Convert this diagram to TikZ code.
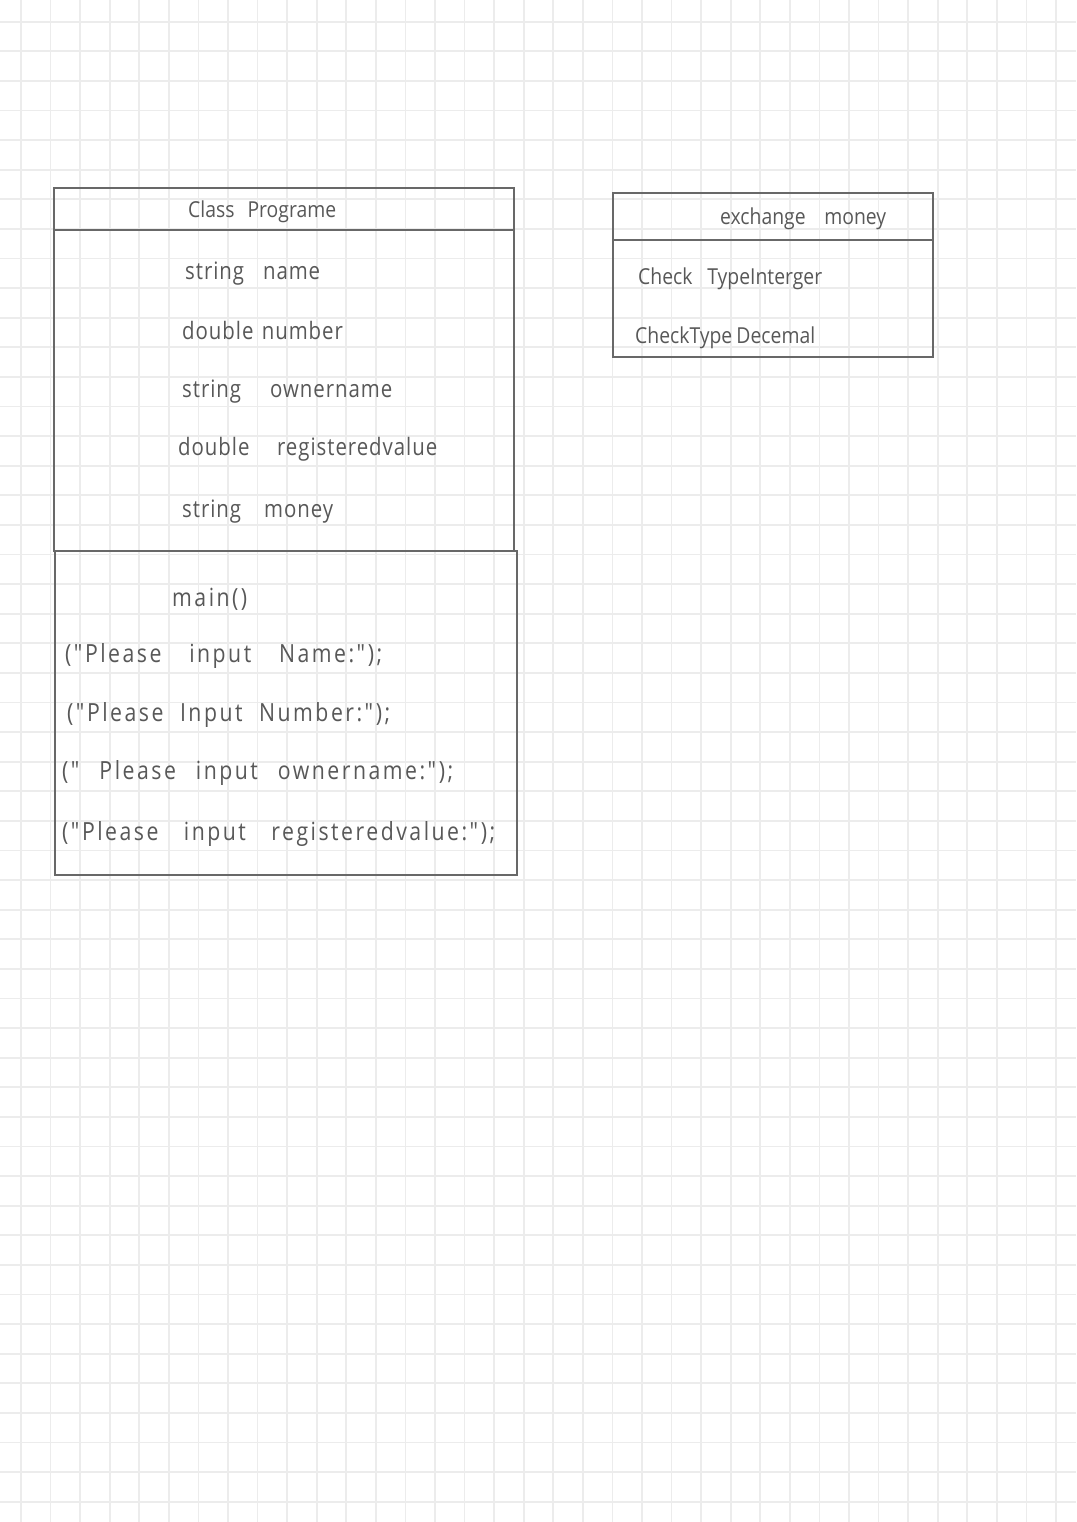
\documentclass[tikz,border=0pt]{standalone}
\usepackage{fontspec}
\setmainfont{Open Sans}[Ligatures=TeXOff]
\definecolor{gridc}{HTML}{ECECEC}
\definecolor{ink}{HTML}{585858}
\definecolor{boxc}{HTML}{686868}
\begin{document}
\begin{tikzpicture}[x=1pt,y=-1pt,
  box/.style={draw=boxc,line width=2.4pt,rectangle,inner sep=0pt},
  txt/.style={text=ink,anchor=west,inner sep=0pt,font=\fontsize{24}{26}\selectfont\addfontfeature{LetterSpace=4,FakeStretch=0.85}},
  code/.style={text=ink,anchor=west,inner sep=0pt,font=\fontsize{25}{26}\selectfont\addfontfeature{LetterSpace=10,FakeStretch=0.85}},
  ttl/.style={text=ink,anchor=west,inner sep=0pt,font=\fontsize{22}{24}\selectfont\addfontfeature{FakeStretch=0.88}}]
\useasboundingbox[fill=white] (0,0) rectangle (1076,1522);
\foreach \i in {0,...,36} {\draw[gridc,line width=1.7pt] (21+29.57*\i,0) -- (21+29.57*\i,1522);}
\foreach \i in {0,...,51} {\draw[gridc,line width=1.7pt] (0,21.7+29.6*\i) -- (1076,21.7+29.6*\i);}
% Class Programe
\node[box,minimum width=460pt,minimum height=42pt] (phead) at (284,209) {};
\node[box,minimum width=460pt,minimum height=321pt] (pattr) at (284,390.5) {};
\node[box,minimum width=462pt,minimum height=324pt] (pmeth) at (286,713) {};
\node[ttl] (ptitle) at (188,212) {\makebox[148pt][s]{Class \ Programe}};
\node[txt] (a1) at (185,274) {\makebox[135pt][s]{string \ name}};
\node[txt] (a2) at (182,330) {\makebox[160pt][s]{double \ number}};
\node[txt] (a3) at (182,392) {\makebox[210pt][s]{string \ ownername}};
\node[txt] (a4) at (178,449) {\makebox[259pt][s]{double \ registeredvalue}};
\node[txt] (a5) at (182,512) {\makebox[151pt][s]{string \ money}};
\node[code] (m0) at (172,599) {main()};
\node[code] (m1) at (65,656) {\makebox[317pt][s]{("Please input Name:");}};
\node[code] (m2) at (67,715) {\makebox[323pt][s]{("Please Input Number:");}};
\node[code] (m3) at (62,773) {\makebox[391pt][s]{(" Please input ownername:");}};
\node[code] (m4) at (62,834) {\makebox[433pt][s]{("Please input registeredvalue:");}};
% exchange money
\node[box,minimum width=320pt,minimum height=47pt] (ehead) at (773,216.5) {};
\node[box,minimum width=320pt,minimum height=117pt] (ebody) at (773,298.5) {};
\node[ttl] (etitle) at (720,219) {\makebox[166pt][s]{exchange money}};
\node[ttl] (e1) at (638,279) {\makebox[184pt][s]{Check TypeInterger}};
\node[ttl] (e2) at (635,338) {\makebox[180pt][s]{CheckType Decemal}};
\end{tikzpicture}
\end{document}
